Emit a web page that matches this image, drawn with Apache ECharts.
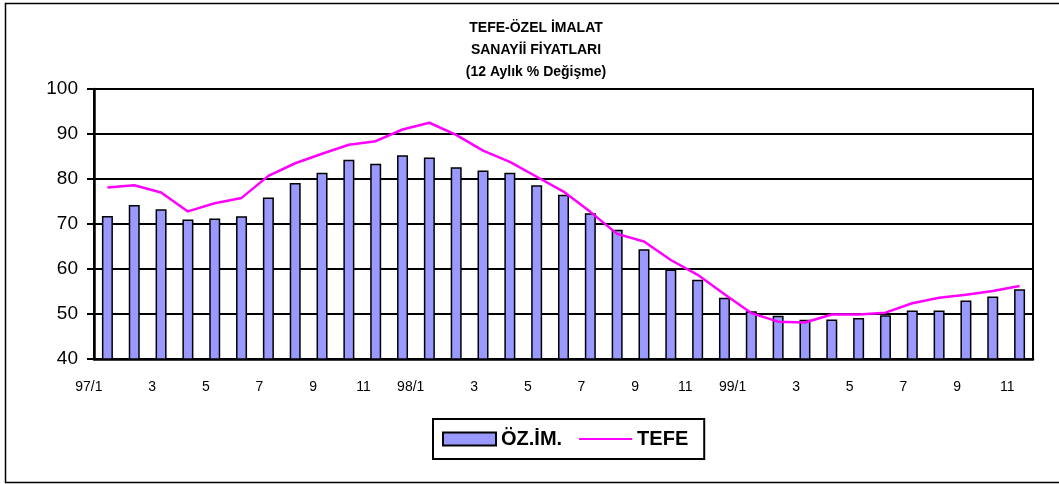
<!DOCTYPE html>
<html><head><meta charset="utf-8">
<script src="https://cdn.jsdelivr.net/npm/echarts@6/dist/echarts.min.js"></script>
<style>html,body{margin:0;padding:0;background:#fff}#c{width:1059px;height:484px}</style>
</head><body><div id="c"></div>
<script>
const categories = ['97/1','97/2','97/3','97/4','97/5','97/6','97/7','97/8','97/9','97/10','97/11','97/12',
  '98/1','98/2','98/3','98/4','98/5','98/6','98/7','98/8','98/9','98/10','98/11','98/12',
  '99/1','99/2','99/3','99/4','99/5','99/6','99/7','99/8','99/9','99/10','99/11'];
const ozim = [71.8,74.2,73.3,71.0,71.2,71.7,75.9,79.1,81.4,84.3,83.4,85.3,
  84.8,82.6,81.9,81.4,78.6,76.5,72.4,68.7,64.4,59.9,57.6,53.6,
  50.6,49.6,48.7,48.8,49.1,49.7,50.8,50.8,53.0,53.9,55.5];
const tefe = [78.1,78.6,77.0,72.8,74.6,75.8,80.7,83.5,85.6,87.6,88.4,91.0,
  92.5,89.8,86.3,83.8,80.5,77.2,72.7,67.8,66.1,62.0,58.7,54.4,
  50.2,48.3,48.1,49.9,49.9,50.3,52.4,53.6,54.3,55.1,56.2];
const titleLines = ['TEFE-ÖZEL İMALAT','SANAYİİ FİYATLARI','(12 Aylık % Değişme)'];
const FONT = '"Liberation Sans", Arial, sans-serif';

const chart = echarts.init(document.getElementById('c'));
chart.setOption({
  animation: false,
  backgroundColor: '#fff',
  title: {
    text: titleLines.join('\n'),
    left: 531, top: 12, textAlign: 'center',
    textStyle: {fontFamily: FONT, fontSize: 14, fontWeight: 'bold', color: '#000', lineHeight: 22}
  },
  graphic: [{type: 'rect', shape: {x: 5.5, y: 3.5, width: 1060, height: 479},
    style: {fill: 'none', stroke: '#000', lineWidth: 1.5}, silent: true, z: 100}],
  legend: {
    left: 433, top: 419,
    padding: [10, 16, 10, 9],
    borderColor: '#000', borderWidth: 2,
    itemWidth: 53, itemHeight: 13, itemGap: 16,
    textStyle: {fontFamily: FONT, fontSize: 20, fontWeight: 'bold', color: '#000'},
    data: [{name: 'ÖZ.İM.', icon: 'rect'}, {name: 'TEFE', itemStyle: {opacity: 0}}]
  },
  grid: {left: 94, right: 26, top: 89, bottom: 125, show: true, borderColor: '#000', borderWidth: 2},
  xAxis: {
    type: 'category', data: categories, boundaryGap: true,
    axisLine: {lineStyle: {color: '#000', width: 2.5}},
    axisTick: {show: false},
    axisLabel: {
      interval: 1, margin: 21, align: 'right', padding: [0, 5, 0, 0],
      fontFamily: FONT, fontSize: 14, color: '#000',
      formatter: v => { const p = v.split('/'); return p[1] === '1' ? v : p[1]; }
    }
  },
  yAxis: {
    type: 'value', min: 40, max: 100, interval: 10,
    axisLine: {show: true, lineStyle: {color: '#000', width: 2.5}},
    axisTick: {show: true, length: 7, lineStyle: {color: '#000', width: 2}},
    splitLine: {lineStyle: {color: '#000', width: 2}},
    axisLabel: {margin: 16, fontFamily: FONT, fontSize: 19, color: '#000'}
  },
  series: [
    {name: 'ÖZ.İM.', type: 'bar', data: ozim, barWidth: 11,
      itemStyle: {color: '#9999FF', borderColor: '#000', borderWidth: 1.5}},
    {name: 'TEFE', type: 'line', data: tefe, symbol: 'none', z: 5,
      lineStyle: {color: '#FF00FF', width: 2.5}, itemStyle: {color: '#FF00FF'}}
  ]
});
</script></body></html>
